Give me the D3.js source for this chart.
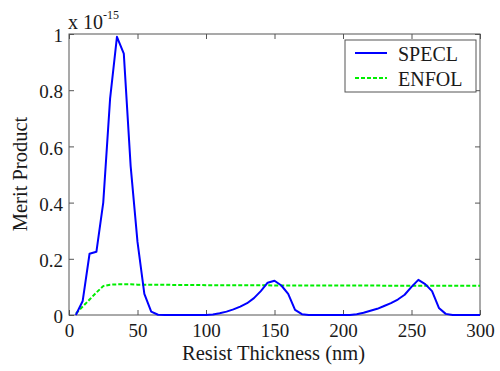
<!DOCTYPE html>
<html><head><meta charset="utf-8">
<script src="https://cdn.jsdelivr.net/npm/d3@7"></script>
<style>body{margin:0;background:#fff}svg{display:block}</style>
</head><body>
<svg id="c" width="500" height="371"></svg>
<script>
const thickness = d3.range(5, 301, 5);
const specl = [0,0.05,0.218,0.225,0.40,0.77,0.99,0.93,0.53,0.26,0.075,0.012,0.001,0,0,0,0,0,0,0,
 0.002,0.006,0.012,0.02,0.03,0.042,0.06,0.085,0.115,0.122,0.105,0.075,0.018,0.003,0,0,0,0,0,0,
 0,0.003,0.008,0.015,0.022,0.032,0.042,0.055,0.072,0.1,0.125,0.11,0.085,0.025,0.004,0,0,0,0,0];
const enfol = [0.005,0.03,0.055,0.08,0.103,0.108,0.109,0.109,0.109,0.108,0.108,0.108,0.108,0.108,0.107,0.107,0.107,0.107,0.107,0.106,
 0.106,0.106,0.106,0.106,0.106,0.106,0.106,0.106,0.106,0.105,0.105,0.105,0.105,0.105,0.105,0.105,0.105,0.105,0.105,0.105,
 0.105,0.105,0.105,0.105,0.105,0.104,0.104,0.104,0.104,0.104,0.104,0.104,0.104,0.104,0.104,0.104,0.104,0.104,0.104,0.104];
const xTicks = [0,50,100,150,200,250,300];
const yTicks = [0,0.2,0.4,0.6,0.8,1];
const seriesNames = ["SPECL","ENFOL"];

const svg = d3.select("#c");
const L=69,R=480,T=34,B=315;
const x = d3.scaleLinear().domain([0,300]).range([L,R]);
const y = d3.scaleLinear().domain([0,1]).range([B,T]);
const font = "Liberation Serif";
const axCol = "#555";
const txtCol = "#1a1a1a";

function styleAxis(g){
  g.select(".domain").remove();
  g.attr("font-family",font);
  g.selectAll(".tick line").attr("stroke",axCol);
  g.selectAll(".tick text").attr("font-family",font).attr("font-size",19).attr("fill",txtCol);
}
svg.append("g").attr("transform",`translate(0,${B})`)
  .call(d3.axisBottom(x).tickValues(xTicks).tickSizeInner(-5).tickSizeOuter(0).tickPadding(9).tickFormat(d3.format("d")))
  .call(styleAxis);
svg.append("g").attr("transform",`translate(0,${T})`)
  .call(d3.axisTop(x).tickValues(xTicks).tickSizeInner(-5).tickSizeOuter(0).tickFormat(""))
  .call(styleAxis);
svg.append("g").attr("transform",`translate(${L},0)`)
  .call(d3.axisLeft(y).tickValues(yTicks).tickSizeInner(-5).tickSizeOuter(0).tickPadding(6).tickFormat(d=>d===0||d===1?d3.format("d")(d):d3.format(".1f")(d)))
  .call(styleAxis)
  .call(g=>g.selectAll(".tick text").attr("dy","0.4em"));
svg.append("g").attr("transform",`translate(${R},0)`)
  .call(d3.axisRight(y).tickValues(yTicks).tickSizeInner(-5).tickSizeOuter(0).tickFormat(""))
  .call(styleAxis);
svg.append("rect").attr("x",L).attr("y",T).attr("width",R-L).attr("height",B-T)
  .attr("fill","none").attr("stroke",axCol).attr("stroke-width",1);

const line = d3.line().x((d,i)=>x(thickness[i])).y(d=>y(d));
svg.append("path").datum(enfol).attr("d",line).attr("fill","none")
  .attr("stroke","#00ee00").attr("stroke-width",2).attr("stroke-dasharray","4,2");
svg.append("path").datum(specl).attr("d",line).attr("fill","none")
  .attr("stroke","#0000ff").attr("stroke-width",2).attr("stroke-linejoin","round");

// exponent
const ex = svg.append("text").attr("x",68).attr("y",29).attr("font-family",font).attr("font-size",20).attr("fill",txtCol);
ex.append("tspan").text("x 10");
ex.append("tspan").attr("dy",-10).attr("font-size",12).text("-15");

// axis labels
svg.append("text").attr("x",(L+R)/2-1).attr("y",360).attr("text-anchor","middle")
  .attr("font-family",font).attr("font-size",20.5).attr("fill",txtCol).text("Resist Thickness (nm)");
svg.append("text").attr("transform",`translate(27,174) rotate(-90)`).attr("text-anchor","middle")
  .attr("font-family",font).attr("font-size",20.5).attr("fill",txtCol).text("Merit Product");

// legend
const lg = svg.append("g");
lg.append("rect").attr("x",345).attr("y",40).attr("width",131).attr("height",52)
  .attr("fill","#fff").attr("stroke",axCol);
const colors = ["#0000ff","#00ee00"], dashes=[null,"4,2"];
seriesNames.forEach((n,i)=>{
  const yy = 53 + i*25;
  lg.append("line").attr("x1",355).attr("x2",387).attr("y1",yy).attr("y2",yy)
    .attr("stroke",colors[i]).attr("stroke-width",2).attr("stroke-dasharray",dashes[i]);
  lg.append("text").attr("x",398).attr("y",yy+8).attr("font-family",font).attr("font-size",20).attr("fill",txtCol).text(n);
});
</script>
</body></html>
